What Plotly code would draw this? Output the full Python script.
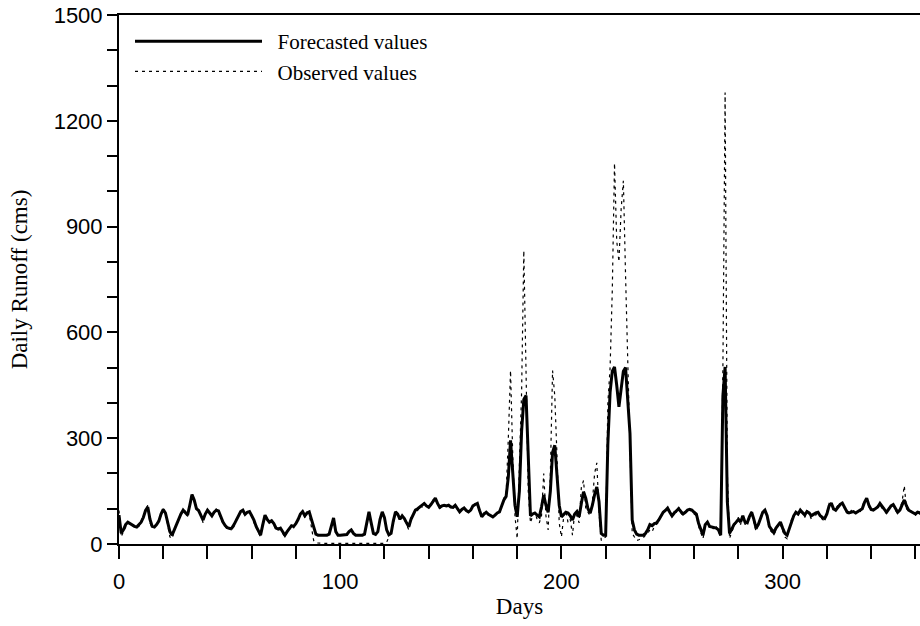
import plotly.graph_objects as go

# ---- data ----
forecasted = [
    82, 31, 40, 55, 62, 58, 52, 50, 48, 55, 62, 75, 95, 105, 70, 50, 48, 55, 65, 85,
    98, 88, 60, 35, 25, 40, 58, 70, 85, 96, 90, 82, 110, 140, 125, 100, 95, 80, 68, 85,
    96, 88, 80, 90, 96, 94, 75, 62, 52, 46, 44, 45, 55, 68, 82, 92, 96, 84, 90, 92,
    80, 68, 50, 35, 25, 55, 82, 70, 62, 66, 58, 45, 42, 45, 35, 25, 35, 45, 52, 50,
    58, 70, 85, 92, 80, 88, 91, 70, 45, 28, 25, 25, 25, 25, 25, 28, 50, 74, 35, 25,
    25, 25, 25, 27, 35, 40, 30, 25, 25, 25, 25, 28, 60, 91, 60, 30, 27, 35, 70, 91,
    75, 40, 26, 30, 65, 91, 85, 70, 80, 72, 60, 49, 70, 85, 96, 100, 105, 110, 115, 108,
    104, 112, 122, 130, 115, 104, 108, 110, 108, 110, 105, 104, 110, 100, 91, 98, 102, 95, 91, 96,
    108, 112, 115, 95, 77, 85, 90, 84, 80, 77, 82, 88, 91, 110, 125, 135, 190, 294, 200, 110,
    77, 150, 320, 410, 421, 230, 80, 85, 88, 82, 77, 105, 139, 110, 90, 150, 260, 280, 200, 110,
    77, 85, 90, 88, 80, 68, 85, 92, 77, 115, 148, 130, 100, 88, 110, 140, 162, 120, 30, 25,
    25, 285, 430, 490, 502, 450, 389, 440, 490, 500, 400, 313, 68, 40, 28, 25, 25, 25, 30, 40,
    55, 52, 58, 60, 68, 80, 90, 95, 102, 90, 80, 88, 95, 100, 92, 85, 90, 96, 98, 96,
    90, 85, 59, 40, 25, 55, 62, 50, 48, 45, 45, 40, 25, 420, 502, 120, 30, 42, 55, 62,
    70, 62, 80, 62, 60, 78, 90, 70, 45, 55, 75, 90, 96, 80, 50, 42, 32, 45, 55, 62,
    45, 30, 25, 45, 65, 80, 90, 85, 96, 90, 82, 92, 88, 80, 85, 88, 90, 80, 75, 72,
    85, 108, 116, 100, 96, 105, 112, 116, 105, 92, 88, 90, 92, 88, 92, 94, 100, 118, 130, 110,
    98, 96, 100, 105, 115, 108, 98, 90, 100, 108, 112, 100, 90, 96, 110, 125, 108, 96, 92, 88,
    85, 90, 88, 86, 85,
]

observed = [
    95, 20, 35, 50, 60, 55, 48, 52, 45, 50, 65, 80, 90, 110, 60, 45, 50, 52, 70, 80,
    100, 85, 55, 20, 15, 35, 60, 65, 90, 92, 95, 78, 115, 145, 120, 105, 90, 85, 60, 88,
    92, 85, 82, 88, 100, 90, 70, 60, 50, 40, 45, 38, 50, 70, 80, 95, 92, 80, 92, 88,
    82, 60, 45, 30, 20, 60, 78, 72, 58, 65, 55, 40, 45, 40, 30, 20, 38, 40, 55, 45,
    60, 75, 80, 95, 75, 90, 85, 40, 10, 3, 2, 2, 2, 2, 2, 2, 2, 3, 2, 2,
    2, 2, 2, 2, 3, 2, 2, 2, 2, 2, 2, 2, 3, 2, 2, 2, 2, 2, 3, 2,
    2, 5, 20, 35, 60, 85, 80, 75, 78, 70, 55, 40, 75, 80, 100, 95, 110, 105, 118, 105,
    108, 110, 125, 128, 118, 100, 110, 108, 112, 106, 108, 100, 112, 98, 90, 100, 100, 98, 88, 98,
    105, 115, 112, 92, 75, 88, 88, 82, 82, 75, 85, 85, 95, 105, 130, 140, 300, 492, 250, 80,
    15, 200, 430, 832, 450, 150, 60, 80, 90, 70, 60, 80, 200, 80, 40, 200, 492, 420, 250, 60,
    20, 75, 95, 60, 70, 25, 90, 80, 60, 160, 180, 100, 90, 80, 120, 200, 230, 90, 10, 15,
    20, 400, 500, 720, 1080, 860, 800, 950, 1030, 760, 520, 200, 30, 20, 10, 12, 15, 18, 25, 30,
    40, 35, 50, 55, 62, 85, 88, 100, 98, 85, 78, 92, 90, 105, 88, 80, 92, 100, 95, 92,
    85, 80, 50, 30, 15, 50, 65, 45, 50, 40, 48, 35, 20, 500, 1280, 200, 15, 35, 50, 65,
    75, 55, 85, 55, 65, 70, 95, 60, 35, 60, 70, 95, 90, 75, 40, 35, 25, 40, 60, 55,
    40, 20, 15, 40, 70, 75, 95, 80, 100, 85, 75, 95, 85, 70, 90, 82, 95, 75, 70, 65,
    90, 115, 110, 95, 100, 110, 108, 120, 100, 88, 85, 95, 88, 85, 95, 90, 105, 125, 125, 105,
    95, 100, 95, 110, 112, 100, 95, 85, 105, 112, 108, 95, 85, 100, 120, 165, 100, 92, 95, 85,
    80, 92, 85, 88, 82,
]

days = list(range(len(forecasted)))

x_tick_vals = list(range(0, 361, 20))
x_tick_text = [str(v) if v % 100 == 0 else "" for v in x_tick_vals]
y_tick_vals = list(range(0, 1501, 100))
y_tick_text = [str(v) if v % 300 == 0 else "" for v in y_tick_vals]

NBSP = "\u00a0"

fig = go.Figure()
fig.add_trace(go.Scatter(
    x=days, y=forecasted, mode="lines",
    name=NBSP * 2 + "Forecasted values",
    line=dict(color="black", width=3),
))
fig.add_trace(go.Scatter(
    x=days, y=observed, mode="lines",
    name=NBSP * 2 + "Observed values",
    line=dict(color="black", width=1.2, dash="3px,4px"),
))

fig.update_layout(
    width=920, height=626,
    margin=dict(l=119, r=0, t=15, b=82),
    paper_bgcolor="white", plot_bgcolor="white",
    showlegend=True,
    legend=dict(
        x=(130 - 119) / 801, y=(544 - 21) / 529,
        xanchor="left", yanchor="top",
        bgcolor="rgba(0,0,0,0)",
        font=dict(family="Liberation Serif", size=21, color="black"),
        itemwidth=127,
    ),
    xaxis=dict(
        range=[0, 362.1], automargin=False,
        tickmode="array", tickvals=x_tick_vals, ticktext=x_tick_text,
        ticks="outside", ticklen=13, tickwidth=2, tickcolor="black",
        showline=True, linecolor="black", linewidth=2, mirror=True,
        showgrid=False, zeroline=False,
        tickfont=dict(family="Liberation Sans", size=22, color="black"),
        ticklabelstandoff=4, ticklabeloverflow="allow",
        title=dict(text="Days", font=dict(family="Liberation Serif", size=23, color="black"), standoff=2),
    ),
    yaxis=dict(
        range=[0, 1500], automargin=False,
        tickmode="array", tickvals=y_tick_vals, ticktext=y_tick_text,
        ticks="outside", ticklen=10, tickwidth=2, tickcolor="black",
        showline=True, linecolor="black", linewidth=2,
        showgrid=False, zeroline=False,
        tickfont=dict(family="Liberation Sans", size=22, color="black"),
        ticklabeloverflow="allow",
        title=dict(text="Daily Runoff (cms)", font=dict(family="Liberation Serif", size=23, color="black"), standoff=20),
    ),
)

fig.write_html(
    "out.html",
    config={"displayModeBar": False},
    post_script="document.body.style.margin='0';document.body.style.overflow='hidden';",
)
